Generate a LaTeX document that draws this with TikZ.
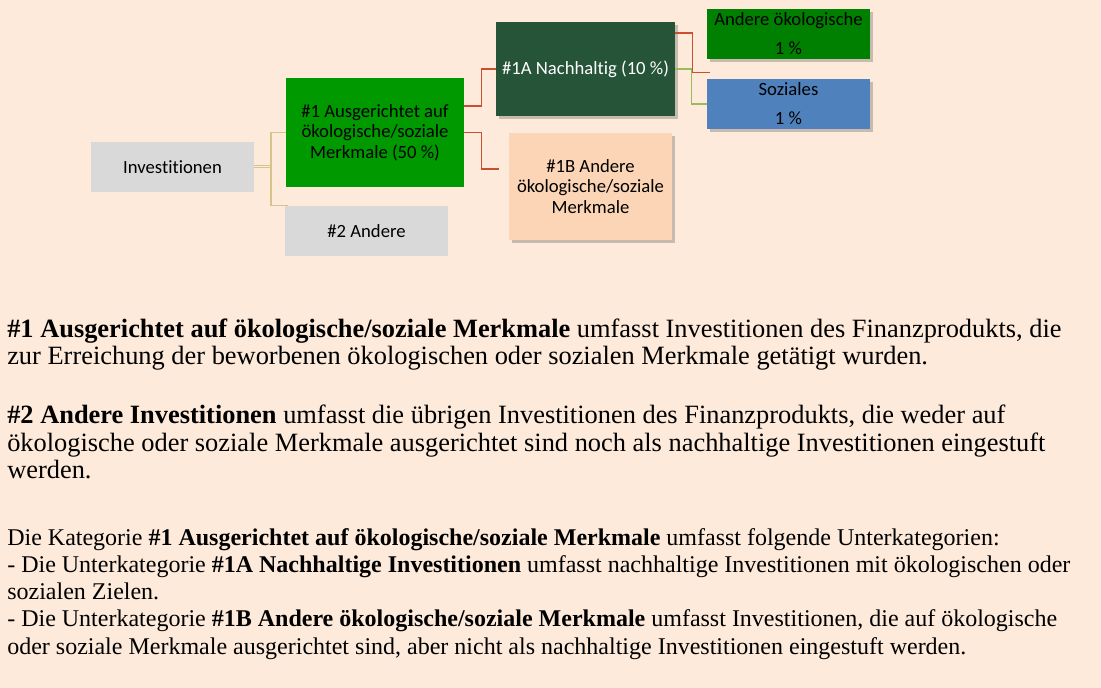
\documentclass[tikz,border=0pt]{standalone}
\usepackage{fontspec}
\setmainfont{Liberation Serif}
\newfontfamily\boxfont[Ligatures=NoCommon]{Carlito}
\usepackage{tikz}
\usetikzlibrary{positioning,shadows}
\definecolor{bgpeach}{HTML}{FDEADA}
\definecolor{boxgray}{HTML}{D9D9D9}
\definecolor{brightgreen}{HTML}{009900}
\definecolor{darkgreen}{HTML}{265438}
\definecolor{plaingreen}{HTML}{008000}
\definecolor{sozblue}{HTML}{4F81BD}
\definecolor{peachbox}{HTML}{FBD5B5}
\definecolor{redline}{HTML}{C9502F}
\definecolor{greenline}{HTML}{9BBB59}
\definecolor{tanline}{HTML}{D6C48A}
\tikzset{catbox/.style={
    % The shape:
    rectangle,
    inner sep=0pt,
    % The size:
    minimum width=122.25pt,
    minimum height=37.5pt,
    % Font
    align=center,
    font=\boxfont\fontsize{14}{15.4}\selectfont
    },
    leafbox/.style={
    catbox,
    shadowed,
    font=\boxfont\fontsize{14}{21.75}\selectfont
    },
    shadowed/.style={
    drop shadow={shadow xshift=2pt,shadow yshift=-2pt,opacity=0.3,fill=black!70}
    },
    redwire/.style={draw=redline,line width=1.1pt},
    greenwire/.style={draw=greenline,line width=1.1pt},
    tanwire/.style={draw=tanline,line width=1.1pt},
    para/.style={
    anchor=north west,
    inner sep=0pt,
    align=left,
    font=\fontsize{19.8}{19.9}\selectfont
    },
    smallpara/.style={
    para,
    font=\fontsize{18}{20.4}\selectfont
    },
}

\begin{document}
\begin{tikzpicture}[x=0.75pt,y=-0.75pt]
    \fill[bgpeach] (0,0) rectangle (1101,688);
    \useasboundingbox (0,0) rectangle (1101,688);

    \node (inv)    [catbox,fill=boxgray] at (172.5,167) {Investitionen};
    \node (ausg)   [catbox,fill=brightgreen,minimum width=133.5pt,minimum height=81.75pt] at (375,132.5)
                   {\#1 Ausgerichtet auf\\ökologische/soziale\\Merkmale (50~\%)};
    \node (andere) [catbox,fill=boxgray] at (366.5,231) {\#2 Andere};
    \node (nachh)  [catbox,shadowed,fill=darkgreen,text=white,minimum width=134.25pt,minimum height=70.5pt] at (585.5,69)
                   {\#1A Nachhaltig (10~\%)};
    \node (sonst)  [catbox,shadowed,fill=peachbox,minimum height=80.25pt] at (590.5,186.5)
                   {\#1B Andere\\ökologische/soziale\\Merkmale};
    \node (oeko)   [leafbox,fill=plaingreen] at (788.5,34) {Andere ökologische\\1~\%};
    \node (soz)    [leafbox,fill=sozblue] at (788.5,104) {Soziales\\1~\%};

    \coordinate (fork) at (271,167);
    \draw[tanwire,double=bgpeach,double distance=0.75pt,line width=0.75pt] (inv.east) -- (fork);
    \draw[tanwire] (ausg.west) -| (fork) |- ([xshift=2.25pt]andere.north west);
    \draw[redwire] ([yshift=19.9pt]ausg.east) -- ++(17,0) |- (nachh.west);
    \draw[redwire] (ausg.east) -- ++(17,0) |- ([xshift=-7.5pt,yshift=13.1pt]sonst.west);
    \draw[redwire] ([yshift=27pt]nachh.east) -- ++(17,0) |- ([xshift=2.25pt,yshift=-9.75pt]oeko.south west);
    \draw[greenwire] (nachh.east) -- ++(16,0) |- (soz.west);

    \node (erkl1) [para] at (7,319)
        {\strut\textbf{\#1 Ausgerichtet auf ökologische/soziale Merkmale} umfasst Investitionen des Finanzprodukts, die\\
         zur Erreichung der beworbenen ökologischen oder sozialen Merkmale getätigt wurden.};
    \node (erkl2) [para] at (7,405)
        {\strut\textbf{\#2 Andere Investitionen} umfasst die übrigen Investitionen des Finanzprodukts, die weder auf\\
         ökologische oder soziale Merkmale ausgerichtet sind noch als nachhaltige Investitionen eingestuft\\
         werden.};
    \node (unter) [smallpara] at (7,526)
        {\strut Die Kategorie \textbf{\#1 Ausgerichtet auf ökologische/soziale Merkmale} umfasst folgende Unterkategorien:\\
         - Die Unterkategorie \textbf{\#1A Nachhaltige Investitionen} umfasst nachhaltige Investitionen mit ökologischen oder\\
         sozialen Zielen.\\
         - Die Unterkategorie \textbf{\#1B Andere ökologische/soziale Merkmale} umfasst Investitionen, die auf ökologische\\
         oder soziale Merkmale ausgerichtet sind, aber nicht als nachhaltige Investitionen eingestuft werden.};
\end{tikzpicture}
\end{document}
